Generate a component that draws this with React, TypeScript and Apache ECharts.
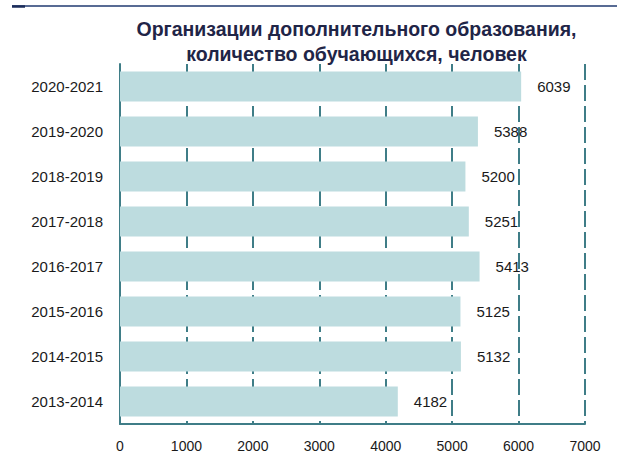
import React, { useEffect, useRef } from "react";
import * as echarts from "echarts";

const categories = ["2020-2021", "2019-2020", "2018-2019", "2017-2018", "2016-2017", "2015-2016", "2014-2015", "2013-2014"];
const values = [6039, 5388, 5200, 5251, 5413, 5125, 5132, 4182];
const xTicks = [0, 1000, 2000, 3000, 4000, 5000, 6000, 7000];
const titleLines = ["Организации дополнительного образования,", "количество обучающихся, человек"];

const FONT = "'Liberation Sans', Arial, sans-serif";
const TEAL = "#3f7d87";

export default function App() {
  const ref = useRef<HTMLDivElement>(null);
  useEffect(() => {
    if (!ref.current) return;
    const chart = echarts.init(ref.current, null, { renderer: "svg" });
    chart.setOption({
      animation: false,
      backgroundColor: "#ffffff",
      title: {
        text: titleLines.join("\n"),
        left: 351.5,
        top: 11,
        textAlign: "center",
        textStyle: {
          fontFamily: FONT,
          fontSize: 19.5,
          fontWeight: "bold",
          color: "#1f2547",
          lineHeight: 25,
        },
      },
      graphic: [
        {
          type: "line",
          shape: { x1: 12, y1: 6, x2: 617, y2: 6 },
          style: { stroke: "#203a70", lineWidth: 1.5 },
        },
        {
          type: "line",
          shape: { x1: 12, y1: 6.5, x2: 25, y2: 6.5 },
          style: { stroke: "#1b2c5a", lineWidth: 2.5 },
        },
      ],
      grid: { left: 120, right: 34, top: 64, bottom: 44, containLabel: false },
      xAxis: {
        type: "value",
        min: xTicks[0],
        max: xTicks[xTicks.length - 1],
        interval: 1000,
        axisLine: { show: true, lineStyle: { color: TEAL, width: 2 } },
        axisTick: { show: false },
        axisLabel: {
          fontFamily: FONT,
          fontSize: 14,
          color: "#1a1a1a",
          margin: 15,
          formatter: (v: number) => String(v),
        },
        splitLine: {
          show: true,
          lineStyle: { color: TEAL, width: 2, type: [16, 5] },
        },
      },
      yAxis: {
        type: "category",
        data: categories,
        inverse: true,
        axisLine: { show: true, lineStyle: { color: TEAL, width: 2 } },
        axisTick: { show: false },
        axisLabel: {
          fontFamily: FONT,
          fontSize: 15,
          color: "#1a1a1a",
          margin: 17,
        },
        splitLine: { show: false },
      },
      series: [
        {
          type: "bar",
          data: values,
          barWidth: 30,
          itemStyle: { color: "#bddcdf" },
          label: {
            show: true,
            position: "right",
            distance: 16,
            fontFamily: FONT,
            fontSize: 15,
            color: "#1a1a1a",
          },
        },
      ],
    });
    return () => chart.dispose();
  }, []);
  return (
    <div
      ref={ref}
      style={{ position: "fixed", left: 0, top: 0, width: 619, height: 468 }}
    />
  );
}
